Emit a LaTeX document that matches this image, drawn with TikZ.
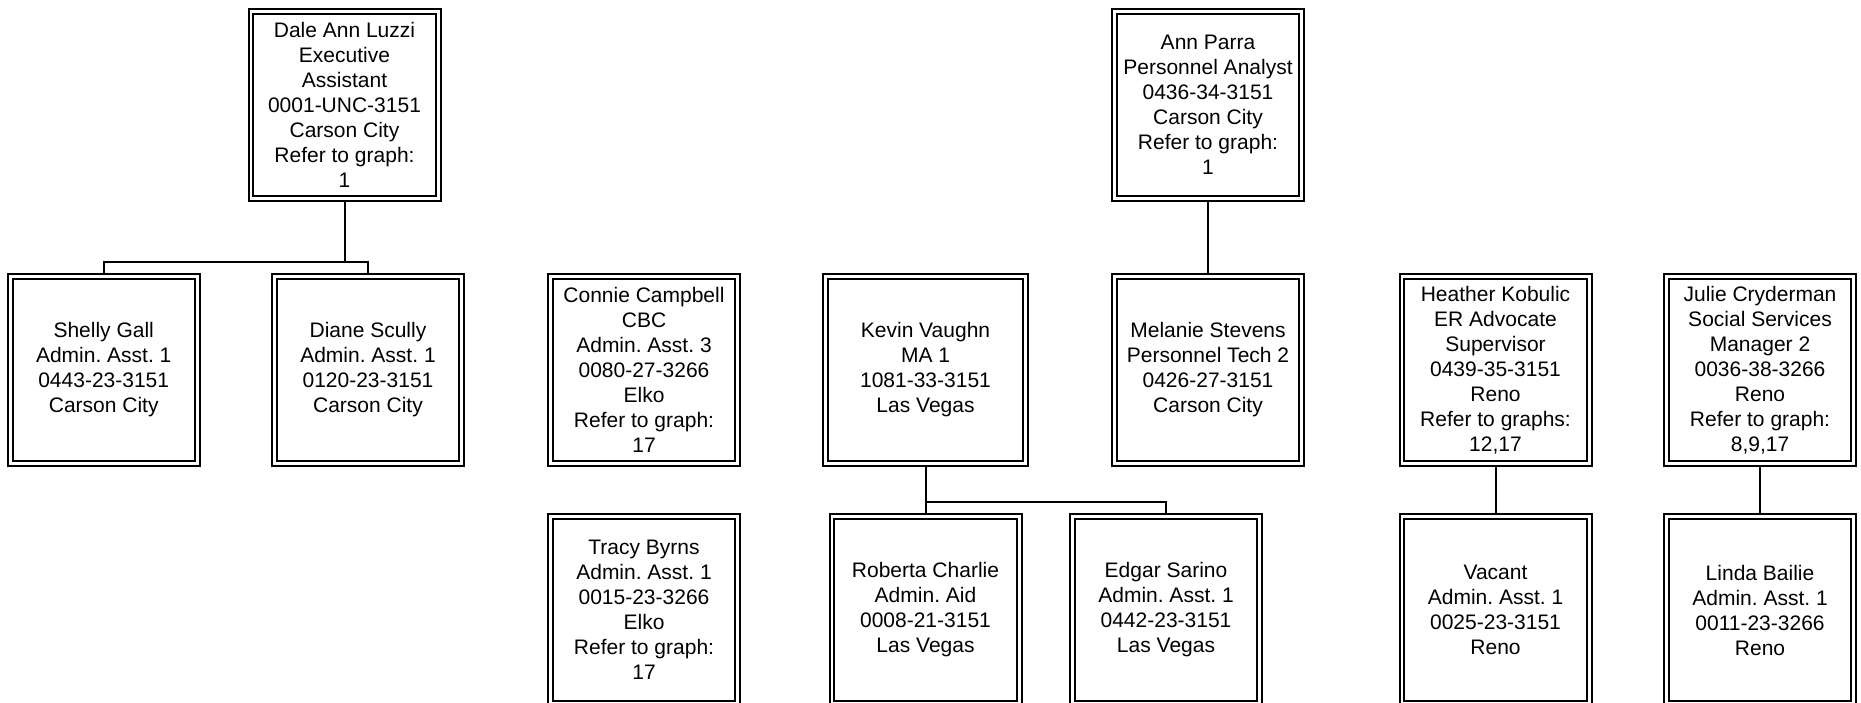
\documentclass[tikz,border=0pt]{standalone}
\usepackage{fontspec}
\setmainfont{Liberation Sans}

\begin{document}
\frenchspacing
\begin{tikzpicture}[x=0.5pt,y=-0.5pt]
\tikzset{post/.style={draw,double,line width=1pt,double distance=1.4pt,minimum width=93.6pt,minimum height=93.6pt,inner sep=0pt,outer sep=1.7pt,align=center}}
\tikzset{wide post/.style={post,minimum width=100.1pt}}
\tikzset{link/.style={line width=1pt}}

\fontsize{10.5}{12.5}\selectfont
\useasboundingbox (0,0) rectangle (1861,702);

% top row
\node[post] (dale) at (344.5,105) {Dale Ann Luzzi\\Executive\\Assistant\\0001-UNC-3151\\Carson City\\Refer to graph:\\1};
\node[post] (ann) at (1208,105) {Ann Parra\\Personnel Analyst\\0436-34-3151\\Carson City\\Refer to graph:\\1};

% middle row
\node[post] (shelly) at (103.7,370) {Shelly Gall\\Admin. Asst. 1\\0443-23-3151\\Carson City};
\node[post] (diane) at (368,370) {Diane Scully\\Admin. Asst. 1\\0120-23-3151\\Carson City};
\node[post] (connie) at (644,370) {Connie Campbell\\CBC\\Admin. Asst. 3\\0080-27-3266\\Elko\\Refer to graph:\\17};
\node[wide post] (kevin) at (925.5,370) {Kevin Vaughn\\MA 1\\1081-33-3151\\Las Vegas};
\node[post] (melanie) at (1208,370) {Melanie Stevens\\Personnel Tech 2\\0426-27-3151\\Carson City};
\node[post] (heather) at (1495.5,370) {Heather Kobulic\\ER Advocate\\Supervisor\\0439-35-3151\\Reno\\Refer to graphs:\\12,17};
\node[post] (julie) at (1760,370) {Julie Cryderman\\Social Services\\Manager 2\\0036-38-3266\\Reno\\Refer to graph:\\8,9,17};

% bottom row
\node[post] (tracy) at (644,610) {Tracy Byrns\\Admin. Asst. 1\\0015-23-3266\\Elko\\Refer to graph:\\17};
\node[post] (roberta) at (925.5,610) {Roberta Charlie\\Admin. Aid\\0008-21-3151\\Las Vegas};
\node[post] (edgar) at (1166,610) {Edgar Sarino\\Admin. Asst. 1\\0442-23-3151\\Las Vegas};
\node[post] (vacant) at (1495.5,610) {Vacant\\Admin. Asst. 1\\0025-23-3151\\Reno};
\node[post] (linda) at (1760,610) {Linda Bailie\\Admin. Asst. 1\\0011-23-3266\\Reno};

% connectors
\coordinate (dalebus) at (344.5,262);
\draw[link] (dale.south) -- (dalebus);
\draw[link] (shelly.north) -- (shelly.north |- dalebus) -- (diane.north |- dalebus) -- (diane.north);
\coordinate (kevinbus) at (925.5,502);
\draw[link] (kevin.south) -- (roberta.north);
\draw[link] (kevinbus) -- (edgar.north |- kevinbus) -- (edgar.north);
\draw[link] (ann.south) -- (melanie.north);
\draw[link] (heather.south) -- (vacant.north);
\draw[link] (julie.south) -- (linda.north);

\end{tikzpicture}
\end{document}
